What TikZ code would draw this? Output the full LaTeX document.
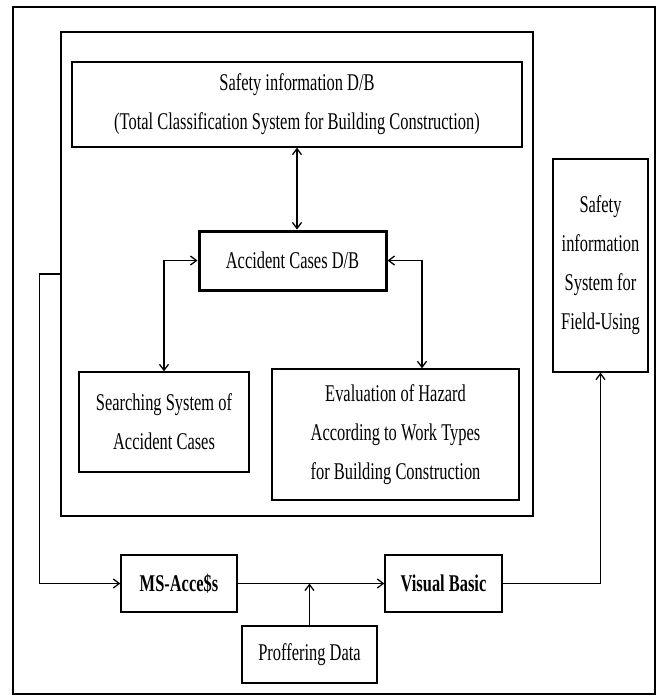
\documentclass[tikz,border=0pt]{standalone}
\usepackage{fontspec}
\newfontfamily\cond[FakeStretch=0.685]{Liberation Serif}
\usetikzlibrary{arrows.meta,calc}
\begin{document}
\begin{tikzpicture}[x=1pt,y=-1pt,
  box/.style={draw,line width=1.3pt,inner sep=0pt,align=center,
    font=\cond\fontsize{24}{39}\selectfont},
  thickbox/.style={box,line width=3pt},
  boldbox/.style={box,font=\cond\bfseries\fontsize{24}{39}\selectfont},
  conn/.style={line width=1.3pt},
  arr/.style={conn,-{Straight Barb[length=6pt,width=9pt]}},
  darr/.style={conn,{Straight Barb[length=6pt,width=9pt]}-{Straight Barb[length=6pt,width=9pt]}}]
\useasboundingbox (0,0) rectangle (666,697);
\fill[white] (0,0) rectangle (666,697);
\node[draw,line width=2.2pt,minimum width=642pt,minimum height=687pt,inner sep=0pt] (frame) at (334,350.5) {};
\node[box,minimum width=472pt,minimum height=484pt] (bigbox) at (297,274) {};
\node[box,minimum width=450pt,minimum height=85pt] (safety) at (297,104.5)
  {Safety information D/B\\(Total Classification System for Building Construction)};
\node[thickbox,minimum width=187pt,minimum height=59pt] (acc) at (292.5,260.5) {Accident Cases D/B};
\node[box,minimum width=170pt,minimum height=100pt] (search) at (164,422)
  {Searching System of\\Accident Cases};
\node[box,minimum width=247pt,minimum height=131pt] (eval) at (395.5,434.5)
  {Evaluation of Hazard\\According to Work Types\\for Building Construction};
\node[box,minimum width=95pt,minimum height=213pt] (field) at (600.5,265.5)
  {Safety\\information\\System for\\Field-Using};
\node[boldbox,minimum width=116pt,minimum height=57pt] (msa) at (179,583.5) {MS-Acce\$s};
\node[boldbox,minimum width=117pt,minimum height=57pt] (vb) at (443.5,583.5) {Visual Basic};
\node[box,minimum width=135pt,minimum height=57pt] (prof) at (309.5,654.5) {Proffering Data};
% connectors
\draw[darr] (safety.south) -- (safety.south |- acc.north);
\draw[darr] (acc.west) -| (search.north);
\draw[darr] (acc.east) -| ([xshift=26.5pt]eval.north);
\draw[arr] (bigbox.west) -- ++(-21,0) |- (msa.west);
\draw[arr] (msa.east) -- (vb.west);
\draw[arr] (prof.north) -- (prof.north |- msa.east);
\draw[arr] (vb.east) -| (field.south);
\end{tikzpicture}
\end{document}
